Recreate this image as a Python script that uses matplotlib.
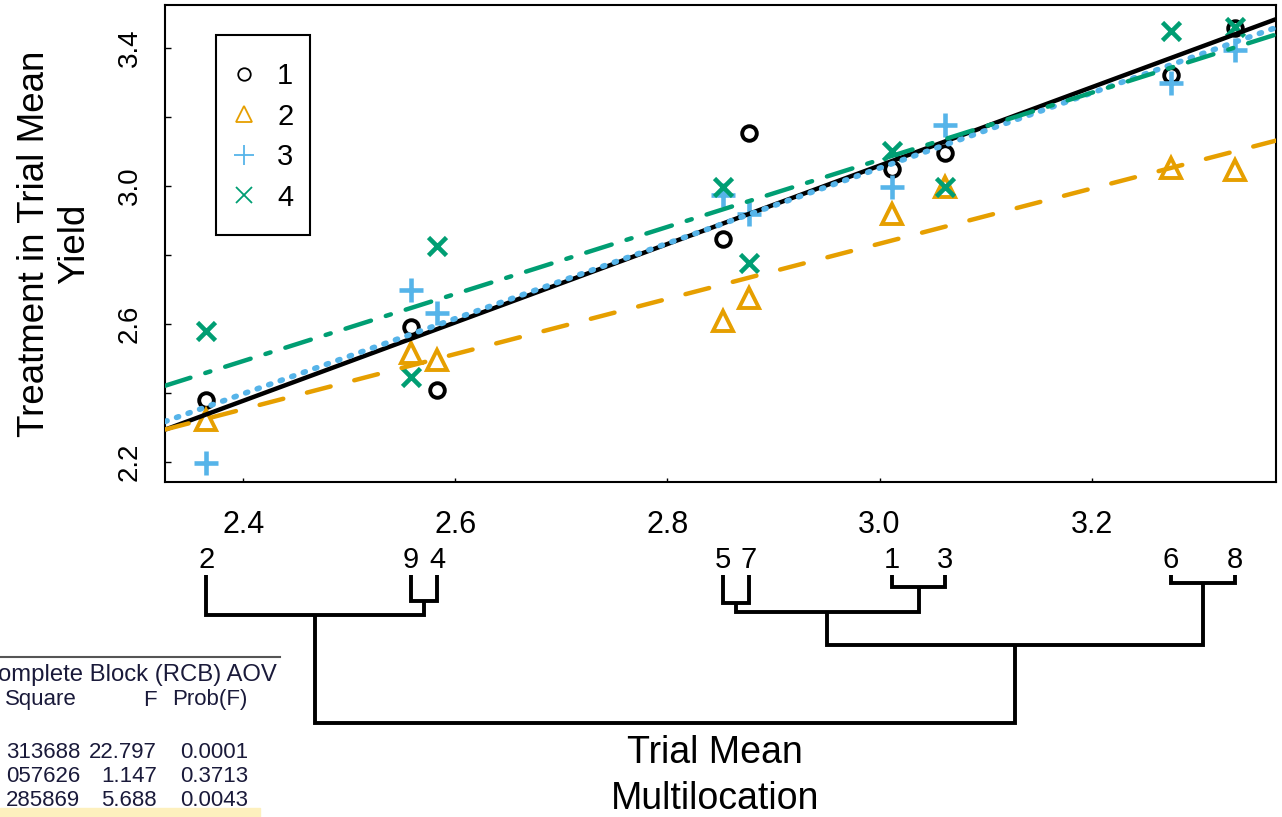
import matplotlib
matplotlib.use("Agg")
import matplotlib.pyplot as plt
from matplotlib.lines import Line2D
from matplotlib.patches import Rectangle
import numpy as np

plt.rcParams['font.family'] = ['Liberation Sans', 'DejaVu Sans']

# ---------------- data ----------------
trials = ['2', '9', '4', '5', '7', '1', '3', '6', '8']
trial_mean = [2.365, 2.558, 2.583, 2.852, 2.877, 3.012, 3.062, 3.275, 3.335]

treat_1 = [2.380, 2.591, 2.409, 2.846, 3.154, 3.049, 3.096, 3.322, 3.458]
treat_2 = [2.322, 2.516, 2.496, 2.609, 2.675, 2.919, 2.997, 3.052, 3.046]
treat_3 = [2.197, 2.699, 2.632, 2.974, 2.920, 2.997, 3.177, 3.299, 3.394]
treat_4 = [2.580, 2.446, 2.826, 2.997, 2.777, 3.101, 2.997, 3.449, 3.461]
treat_labels = ['1', '2', '3', '4']

x_ticks = [2.4, 2.6, 2.8, 3.0, 3.2]
y_ticks_major = [2.2, 2.6, 3.0, 3.4]
y_ticks_all = [2.2, 2.4, 2.6, 2.8, 3.0, 3.2, 3.4]

# dendrogram: merges (left child, right child, height); leaves 0..8 in trial order
merges = [
    (7, 8, 0.05),    # 6-8  -> node 9
    (5, 6, 0.08),    # 1-3  -> node 10
    (1, 2, 0.165),   # 9-4  -> node 11
    (3, 4, 0.18),    # 5-7  -> node 12
    (12, 10, 0.24),  # (5,7)-(1,3) -> node 13
    (0, 11, 0.26),   # 2-(9,4) -> node 14
    (13, 9, 0.45),   # -> node 15
    (14, 15, 0.955), # root
]

table_title = "omplete Block (RCB) AOV"
table_head = ["Square", "F", "Prob(F)"]
table_ms = ["313688", "057626", "285869"]
table_f = ["22.797", "1.147", "5.688"]
table_p = ["0.0001", "0.3713", "0.0043"]

# ---------------- styles ----------------
colors = ['black', '#E69F00', '#56B4E9', '#009E73']
markers = ['o', '^', '+', 'x']
msizes = [10.5, 14, 17, 13]
mews = [2.8, 2.8, 3.3, 3.3]
line_widths = [3.2, 3.2, 4.0, 3.2]
line_styles = ['-', (0, (5.5, 5.5)), (0, (0.4, 1.8)), (0, (6, 3.5, 1.2, 3.5))]

W, H = 1282, 817
fig = plt.figure(figsize=(W / 100, H / 100), dpi=100)

def fx(px):
    return px / W

def fy(py):
    return 1 - py / H

ax_l, ax_r, ax_t, ax_b = 165, 1276, 5, 482
ax = fig.add_axes([fx(ax_l), fy(ax_b), fx(ax_r - ax_l), (ax_b - ax_t) / H])

series = [treat_1, treat_2, treat_3, treat_4]
x = np.array(trial_mean)
for i, ys in enumerate(series):
    ax.plot(x, ys, linestyle='none', marker=markers[i], ms=msizes[i],
            mfc='none', mec=colors[i], mew=mews[i], zorder=3)

for i, ys in enumerate(series):
    b, a = np.polyfit(x, np.array(ys), 1)
    ln = ax.axline((x[0], a + b * x[0]), slope=b, color=colors[i], lw=line_widths[i],
                   linestyle=line_styles[i], zorder=4 + i)
    ln.set_dash_capstyle('round')
    ln.set_solid_capstyle('round')

ax.set_xlim(2.326, 3.374)
ax.set_ylim(2.142, 3.525)
ax.set_xticks(x_ticks)
ax.set_xticklabels([f"{v:.1f}" for v in x_ticks])
ax.set_yticks(y_ticks_all)
ax.set_yticklabels([f"{v:.1f}" if v in y_ticks_major else "" for v in y_ticks_all],
                   rotation=90, va='center')
ax.tick_params(axis='x', direction='in', length=3, width=1, labelsize=22, pad=20)
ax.tick_params(axis='y', direction='in', length=4, width=1, labelsize=20, pad=16)
for s in ax.spines.values():
    s.set_linewidth(1.5)
ax.set_ylabel("Treatment in Trial Mean\nYield", fontsize=26.5)
ax.yaxis.set_label_coords((92 - ax_l) / (ax_r - ax_l), 0.5)

# legend: frame drawn as rectangle, entries placed without frame
ax.add_patch(Rectangle(((216 - ax_l) / (ax_r - ax_l), 1 - (235 - ax_t) / (ax_b - ax_t)),
                       (310 - 216) / (ax_r - ax_l), (235 - 35) / (ax_b - ax_t),
                       transform=ax.transAxes, fill=False, edgecolor='black', lw=1.5,
                       zorder=10))
handles = [Line2D([], [], linestyle='none', marker=markers[i],
                  ms=[9, 11, 14, 11][i], mfc='none', mec=colors[i], mew=1.3)
           for i in range(4)]
leg = ax.legend(handles, treat_labels, loc='upper left',
                bbox_to_anchor=((232 - ax_l) / (ax_r - ax_l), 1 - (62 - ax_t) / (ax_b - ax_t)),
                fontsize=21, frameon=False,
                handlelength=0.8, handletextpad=0.75, labelspacing=0.43,
                borderpad=0, borderaxespad=0)

# ---------------- dendrogram ----------------
d_top, d_bot = 575, 740
axd = fig.add_axes([fx(ax_l), fy(d_bot), fx(ax_r - ax_l), (d_bot - d_top) / H])
axd.set_xlim(ax.get_xlim())
axd.set_ylim((d_bot - d_top) / 155.0, 0)
axd.axis('off')

pos = {i: trial_mean[i] for i in range(len(trials))}
hgt = {i: 0.0 for i in range(len(trials))}
node = len(trials)
lw_d = 2.8
for a_, b_, h in merges:
    xa, xb = pos[a_], pos[b_]
    axd.plot([xa, xa, xb, xb], [hgt[a_], h, h, hgt[b_]], color='black',
             lw=lw_d, solid_joinstyle='miter', solid_capstyle='butt')
    pos[node] = (xa + xb) / 2
    hgt[node] = h
    node += 1

for i, lab in enumerate(trials):
    axd.annotate(lab, (trial_mean[i], 0), xytext=(0, 1), textcoords='offset pixels',
                 ha='center', va='bottom', fontsize=21, annotation_clip=False)

fig.text(fx(715), fy(776), "Trial Mean\nMultilocation", ha='center', va='center',
         fontsize=27, linespacing=1.35)

# ---------------- cut-off table ----------------
fig.add_artist(Line2D([0, fx(280)], [fy(657), fy(657)], color='#555555', lw=1.5))
fig.patches.append(Rectangle((0, fy(817)), fx(260), (817 - 808) / H,
                             transform=fig.transFigure, color='#FDF0BE', zorder=0))
tc = '#1a1a3a'
tfs = 16
fig.text(fx(-2), fy(675), table_title, ha='left', va='center', fontsize=17.2, color=tc)
fig.text(fx(5), fy(700), table_head[0], ha='left', va='center', fontsize=tfs, color=tc)
fig.text(fx(157), fy(700), table_head[1], ha='right', va='center', fontsize=tfs, color=tc)
fig.text(fx(172), fy(700), table_head[2], ha='left', va='center', fontsize=tfs, color=tc)
for k, yy in enumerate([752, 776, 801]):
    fig.text(fx(80), fy(yy), table_ms[k], ha='right', va='center', fontsize=tfs, color=tc)
    fig.text(fx(157), fy(yy), table_f[k], ha='right', va='center', fontsize=tfs, color=tc)
    fig.text(fx(248), fy(yy), table_p[k], ha='right', va='center', fontsize=tfs, color=tc)

fig.savefig("out.png", dpi=100)
